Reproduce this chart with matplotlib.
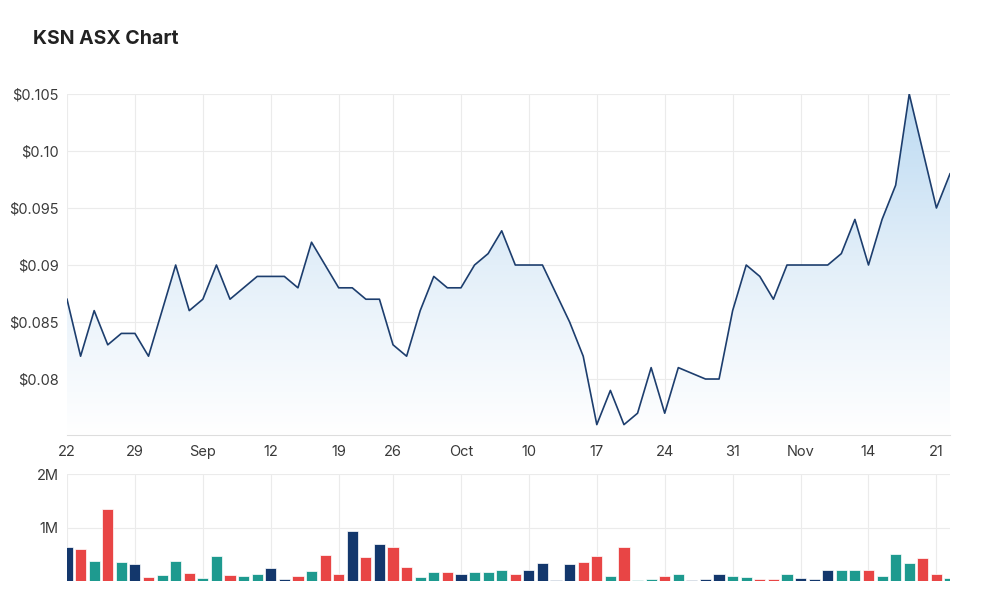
import numpy as np
import matplotlib
matplotlib.use('Agg')
import matplotlib.pyplot as plt
from matplotlib.colors import LinearSegmentedColormap

plt.rcParams['font.family'] = ['Inter', 'DejaVu Sans']

title = "KSN ASX Chart"
tick_labels = ['22', '29', 'Sep', '12', '19', '26', 'Oct', '10', '17', '24', '31', 'Nov', '14', '21']
tick_index = [0, 5, 10, 15, 20, 24, 29, 34, 39, 44, 49, 54, 59, 64]

price = [0.087, 0.082, 0.086, 0.083, 0.084, 0.084, 0.082, 0.086, 0.090, 0.086,
         0.087, 0.090, 0.087, 0.088, 0.089, 0.089, 0.089, 0.088, 0.092, 0.090,
         0.088, 0.088, 0.087, 0.087, 0.083, 0.082, 0.086, 0.089, 0.088, 0.088,
         0.090, 0.091, 0.093, 0.090, 0.090, 0.090, 0.0875, 0.085, 0.082, 0.076,
         0.079, 0.076, 0.077, 0.081, 0.077, 0.081, 0.0805, 0.080, 0.080, 0.086,
         0.090, 0.089, 0.087, 0.090, 0.090, 0.090, 0.090, 0.091, 0.094, 0.090,
         0.094, 0.097, 0.105, 0.100, 0.095, 0.098]

volume_m = [0.63, 0.59, 0.37, 1.35, 0.36, 0.31, 0.075, 0.11, 0.37, 0.15,
            0.056, 0.47, 0.11, 0.088, 0.13, 0.24, 0.037, 0.094, 0.19, 0.49,
            0.13, 0.94, 0.455, 0.69, 0.63, 0.26, 0.075, 0.17, 0.17, 0.13,
            0.17, 0.17, 0.21, 0.13, 0.21, 0.33, 0.019, 0.31, 0.35, 0.47,
            0.088, 0.63, 0.012, 0.037, 0.088, 0.13, 0.02, 0.037, 0.13, 0.088,
            0.07, 0.03, 0.03, 0.13, 0.05, 0.03, 0.21, 0.21, 0.21, 0.21,
            0.088, 0.51, 0.33, 0.43, 0.13, 0.05]

# n = unchanged, r = down, t = up
vol_dir = ['n', 'r', 't', 'r', 't', 'n', 'r', 't', 't', 'r',
           't', 't', 'r', 't', 't', 'n', 'n', 'r', 't', 'r',
           'r', 'n', 'r', 'n', 'r', 'r', 't', 't', 'r', 'n',
           't', 't', 't', 'r', 'n', 'n', 'n', 'n', 'r', 'r',
           't', 'r', 't', 't', 'r', 't', 'n', 'n', 'n', 't',
           't', 'r', 'r', 't', 'n', 'n', 'n', 't', 't', 'r',
           't', 't', 't', 'r', 'r', 't']

dir_colors = {'n': '#13376c', 'r': '#e84545', 't': '#1e9a8f'}
price_ticks = [0.08, 0.085, 0.09, 0.095, 0.10, 0.105]
price_tick_text = ['$0.08', '$0.085', '$0.09', '$0.095', '$0.10', '$0.105']

W, H = 1000, 609
fig = plt.figure(figsize=(W / 100, H / 100), dpi=100)

def ax_rect(x0, y0, x1, y1):
    return [x0 / W, 1 - y1 / H, (x1 - x0) / W, (y1 - y0) / H]

grid_c = '#ebebeb'
label_c = '#3a3a3a'

# ---- price axes
ax = fig.add_axes(ax_rect(67, 94, 950, 435))
x = np.arange(len(price))
ymin, ymax = 0.07509, 0.105
ax.set_xlim(0, len(price) - 1)
ax.set_ylim(ymin, ymax)

poly = ax.fill_between(x, price, ymin, color='none', lw=0)
cmap = LinearSegmentedColormap.from_list('g', ['#ffffff', '#e3eff9', '#bcdaf2'])
grad = np.linspace(0, 1, 256).reshape(-1, 1)
im = ax.imshow(grad, cmap=cmap, aspect='auto', origin='lower',
               extent=[0, len(price) - 1, ymin, ymax], zorder=1)
im.set_clip_path(poly.get_paths()[0], transform=ax.transData)
ax.plot(x, price, color='#1d3e6e', lw=1.2, zorder=3)

ax.set_xticks(tick_index)
ax.set_xticklabels(tick_labels)
ax.set_yticks(price_ticks)
ax.set_yticklabels(price_tick_text)
ax.grid(True, color=grid_c, lw=0.8, zorder=0)
ax.set_axisbelow(True)
for s in ['top', 'right', 'left']:
    ax.spines[s].set_visible(False)
ax.spines['bottom'].set_color('#dddddd')
ax.tick_params(axis='both', length=0, labelsize=10.5, colors=label_c)
ax.tick_params(axis='x', pad=7)
ax.tick_params(axis='y', pad=6)

# ---- volume axes
axv = fig.add_axes(ax_rect(67, 474, 950, 581))
vol = np.array(volume_m) * 1e6
axv.bar(x, vol, width=0.82, color=[dir_colors[d] for d in vol_dir],
        edgecolor='white', linewidth=0.5, zorder=2)
axv.set_xlim(0, len(price) - 1)
axv.set_ylim(0, 2e6)
axv.set_xticks(tick_index)
axv.set_xticklabels([])
axv.set_yticks([1e6, 2e6])
axv.set_yticklabels(['1M', '2M'])
axv.grid(True, color=grid_c, lw=0.8, zorder=0)
axv.set_axisbelow(True)
for s in ['top', 'right', 'left', 'bottom']:
    axv.spines[s].set_visible(False)
axv.tick_params(axis='both', length=0, labelsize=10.5, colors=label_c)
axv.tick_params(axis='y', pad=6)

fig.text(33 / W, 1 - 38.5 / H, title, fontsize=14, fontweight='bold',
         color='#222222', va='center', ha='left')

fig.savefig('out.png', dpi=100)
